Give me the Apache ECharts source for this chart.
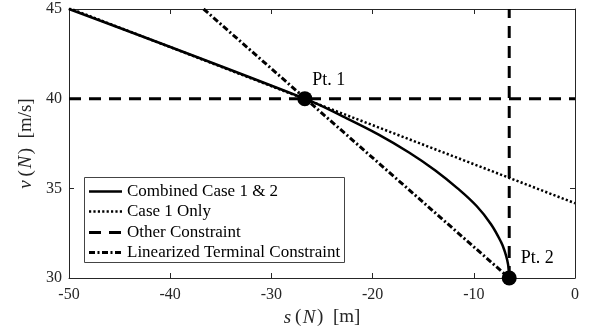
<!DOCTYPE html>
<html>
<head>
<meta charset="utf-8">
<script src="https://cdn.jsdelivr.net/npm/echarts@6/dist/echarts.min.js"></script>
<style>html,body{margin:0;padding:0;background:#fff}#c{width:590px;height:332px}</style>
</head>
<body>
<div id="c"></div>
<script>
// ---- data ----
const seriesNames = ['Combined Case 1 & 2', 'Case 1 Only', 'Other Constraint', 'Linearized Terminal Constraint'];
const combinedS = [-50, -26.7, -22.9, -19.4, -16.4, -13.8, -11.6, -9.7, -8.3, -7.3, -6.95, -6.7, -6.55, -6.5];
const combinedV = [45, 40, 39, 38, 37, 36, 35, 34, 33, 32, 31.5, 31, 30.5, 30];
const case1S = [-50, 0];
const case1V = [45.05, 34.17];
const otherHS = [-50, 0];
const otherHV = [40, 40];
const otherVS = [-6.5, -6.5];
const otherVV = [30, 45];
const linS = [-36.7, -6.5];
const linV = [45, 30];
const ptS = [-26.7, -6.5];
const ptV = [40, 30];
const ptLabels = ['Pt. 1', 'Pt. 2'];
const xTicks = { min: -50, max: 0, interval: 10 };
const yTicks = { min: 30, max: 45, interval: 5 };

const zip = (a, b) => a.map((v, i) => [v, b[i]]);
const FONT = 'Liberation Serif, Times New Roman, serif';
const AX = '#262626';

// line styles shared by series and legend samples
const styles = {
  'Combined Case 1 & 2': { width: 2.5, dash: null },
  'Case 1 Only': { width: 2.5, dash: [2.2, 2.2] },
  'Other Constraint': { width: 3, dash: [12, 8] },
  'Linearized Terminal Constraint': { width: 3, dash: [6, 2.5, 2, 2.5] }
};
const ls = (n) => ({ color: '#000', width: styles[n].width, type: styles[n].dash || 'solid' });

const chart = echarts.init(document.getElementById('c'), null, { renderer: 'canvas' });

function axisBase(extra) {
  return Object.assign({
    type: 'value',
    axisLine: { show: true, onZero: false, lineStyle: { color: AX, width: 1 } },
    axisTick: { show: true, inside: true, length: 5, lineStyle: { color: AX, width: 1 } },
    splitLine: { show: false },
    axisLabel: { color: AX, fontFamily: FONT, fontSize: 16 }
  }, extra);
}

// manual legend (box + samples + real text)
const LG = { x: 84, y: 177, w: 260, h: 85, rowY0: 191, rowGap: 20.3, lx1: 89, lx2: 122, tx: 127 };
const legendChildren = [
  { type: 'rect', shape: { x: LG.x + 0.5, y: LG.y + 0.5, width: LG.w, height: LG.h },
    style: { fill: '#fff', stroke: '#444', lineWidth: 1 } }
];
seriesNames.forEach((n, i) => {
  const y = Math.round(LG.rowY0 + i * LG.rowGap) + 0.5;
  legendChildren.push({ type: 'line', shape: { x1: LG.lx1, y1: y, x2: LG.lx2, y2: y },
    style: { stroke: '#000', lineWidth: styles[n].width, lineDash: styles[n].dash || null } });
  legendChildren.push({ type: 'text', x: LG.tx, y: y,
    style: { text: n, fontFamily: FONT, fontSize: 17, fill: '#000', textVerticalAlign: 'middle', textAlign: 'left' } });
});

chart.setOption({
  animation: false,
  backgroundColor: '#fff',
  grid: { left: 69, right: 15, top: 9, bottom: 54 },
  xAxis: [
    axisBase({
      min: xTicks.min, max: xTicks.max, interval: xTicks.interval, position: 'bottom',
      axisLabel: { color: AX, fontFamily: FONT, fontSize: 16, margin: 9 },
      name: '{i|s}\u2009(\u200a{i|N}\u200a)\u2002[m]', nameLocation: 'middle', nameGap: 30,
      nameTextStyle: { fontFamily: FONT, fontSize: 19, color: AX, rich: { i: { fontFamily: FONT, fontSize: 19, fontStyle: 'italic', color: AX } } }
    }),
    axisBase({ min: xTicks.min, max: xTicks.max, interval: xTicks.interval, position: 'top', axisLabel: { show: false } })
  ],
  yAxis: [
    axisBase({
      min: yTicks.min, max: yTicks.max, interval: yTicks.interval, position: 'left',
      axisLabel: { color: AX, fontFamily: FONT, fontSize: 16, margin: 7 },
      name: '{i|v}\u2009(\u200a{i|N}\u200a)\u2002[m/s]', nameLocation: 'middle', nameGap: 32,
      nameTextStyle: { fontFamily: FONT, fontSize: 19, color: AX, rich: { i: { fontFamily: FONT, fontSize: 19, fontStyle: 'italic', color: AX } } }
    }),
    axisBase({ min: yTicks.min, max: yTicks.max, interval: yTicks.interval, position: 'right', axisLabel: { show: false } })
  ],
  graphic: [{ type: 'group', z: 100, children: legendChildren }],
  series: [
    { name: 'Other Constraint', type: 'line', data: zip(otherHS, otherHV), symbol: 'none',
      lineStyle: ls('Other Constraint'), z: 2 },
    { name: 'Other Constraint', type: 'line', data: zip(otherVS, otherVV), symbol: 'none',
      lineStyle: ls('Other Constraint'), z: 2 },
    { name: 'Linearized Terminal Constraint', type: 'line', data: zip(linS, linV), symbol: 'none',
      lineStyle: ls('Linearized Terminal Constraint'), z: 3 },
    { name: 'Case 1 Only', type: 'line', data: zip(case1S, case1V), symbol: 'none',
      lineStyle: ls('Case 1 Only'), z: 4 },
    { name: 'Combined Case 1 & 2', type: 'line', data: zip(combinedS, combinedV), symbol: 'none',
      smooth: 0.4,
      lineStyle: ls('Combined Case 1 & 2'), z: 5 },
    { name: 'pts', type: 'scatter', data: zip(ptS, ptV).map((p, i) => ({
        value: p,
        label: { show: true, formatter: ptLabels[i], position: 'right', distance: i === 0 ? 0 : 4, offset: [0, i === 0 ? -18 : -20],
                 fontFamily: FONT, fontSize: 18, color: '#000' }
      })),
      symbol: 'circle', symbolSize: 15, itemStyle: { color: '#000', opacity: 1 }, z: 10 }
  ]
});
</script>
</body>
</html>
